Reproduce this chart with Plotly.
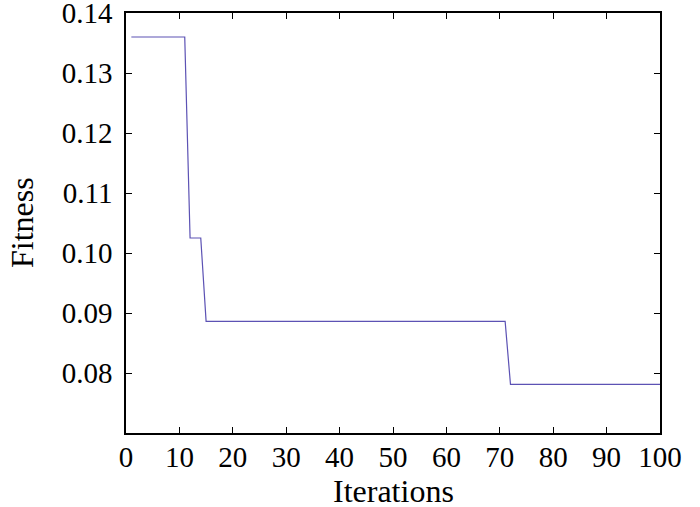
import plotly.graph_objects as go

# fitness per iteration
iterations = list(range(1, 101))
fitness = (
    [0.1360] * 11      # 1..11
    + [0.1025] * 3     # 12..14
    + [0.0886] * 57    # 15..71
    + [0.0781] * 29    # 72..100
)

x_ticks = list(range(0, 101, 10))
y_ticks = [0.08, 0.09, 0.10, 0.11, 0.12, 0.13, 0.14]
y_labels = ["0.08", "0.09", "0.10", "0.11", "0.12", "0.13", "0.14"]

font = "Liberation Serif, Times New Roman, serif"

fig = go.Figure(
    go.Scatter(
        x=iterations,
        y=fitness,
        mode="lines",
        line=dict(color="#5c52b4", width=1.2),
        showlegend=False,
    )
)

axis_common = dict(
    showline=True,
    linecolor="black",
    linewidth=1.5,
    mirror="ticks",
    ticks="inside",
    ticklen=6,
    tickwidth=1,
    tickcolor="black",
    showgrid=False,
    zeroline=False,
    automargin=False,
    ticklabeloverflow="allow",
    tickfont=dict(family=font, size=29, color="black"),
)

fig.update_xaxes(range=[0, 100], tickvals=x_ticks, ticklabelstandoff=-3, **axis_common)
fig.update_yaxes(
    range=[0.07, 0.14], tickvals=y_ticks, ticktext=y_labels, ticklabelstandoff=6, **axis_common
)

# axis titles as annotations so they sit where the reference has them
fig.add_annotation(
    text="Iterations", x=0.5, y=0, xref="paper", yref="paper",
    yanchor="middle", yshift=-58, showarrow=False,
    font=dict(family=font, size=32, color="black"),
)
fig.add_annotation(
    text="Fitness", x=0, y=0.5, xref="paper", yref="paper",
    xanchor="center", xshift=-104, textangle=-90, showarrow=False,
    font=dict(family=font, size=32, color="black"),
)

fig.update_layout(
    width=700,
    height=507,
    margin=dict(l=126, r=39.5, t=13, b=74),
    plot_bgcolor="white",
    paper_bgcolor="white",
)

# drop the page's default 8px body margin so the figure fills the window
fig.write_html(
    "out.html",
    config={"displayModeBar": False},
    post_script="document.body.style.margin = '0';",
)
